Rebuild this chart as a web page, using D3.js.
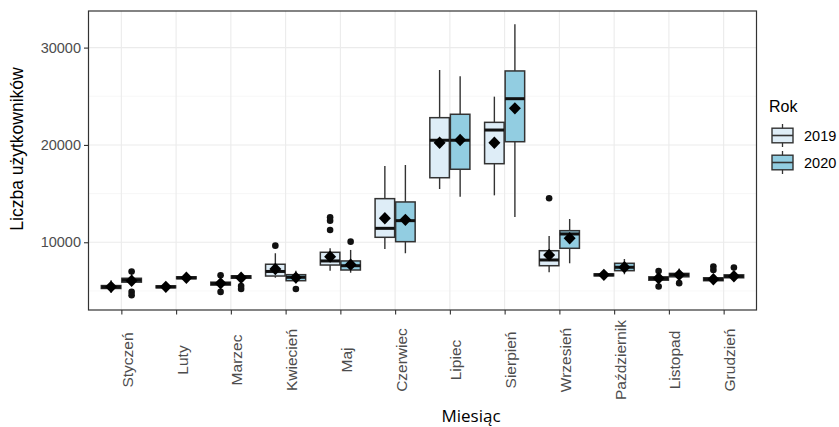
<!DOCTYPE html>
<html><head><meta charset="utf-8">
<script src="https://cdn.jsdelivr.net/npm/d3@7"></script>
<style>body{margin:0;background:#fff}svg{display:block}</style>
</head><body>
<svg id="c" width="839" height="427"></svg>
<script>
const months = ["Styczeń","Luty","Marzec","Kwiecień","Maj","Czerwiec","Lipiec","Sierpień","Wrzesień","Październik","Listopad","Grudzień"];
const years = ["2019","2020"];
const yTicks = [10000, 20000, 30000];
const yMinor = [5000, 15000, 25000];

// 2019 box statistics per month
const low2019    = [4800, 5150, 5250, 6360, 7080,  9310, 15470, 14820,  6910, 6350, 5700, 5700];
const q1_2019    = [5250, 5320, 5600, 6530, 7660, 10510, 16630, 18070,  7590, 6550, 6100, 6050];
const med2019    = [5400, 5420, 5750, 7000, 8080, 11430, 20480, 21530,  8180, 6650, 6280, 6200];
const q3_2019    = [5550, 5520, 5900, 7740, 8970, 14480, 22800, 22320,  9130, 6750, 6450, 6350];
const high2019   = [6100, 5700, 6200, 8870, 9380, 17840, 27700, 24960, 10640, 6950, 6800, 6700];
const mean2019   = [5420, 5420, 5780, 7250, 8520, 12460, 20230, 20230,  8690, 6650, 6300, 6200];
const out2019    = [[], [], [6600, 4900], [9650], [12560, 12220, 11260], [], [], [], [14520], [], [7050, 5450], [7500, 7150]];

// 2020 box statistics per month
const low2020    = [5500, 6050, 5900, 5780, 6870,  8870, 14680, 12600,  7840, 6710, 6150, 6200];
const q1_2020    = [5900, 6250, 6300, 6050, 7150, 10060, 17500, 20330,  9380, 7080, 6450, 6350];
const med2020    = [6100, 6350, 6450, 6400, 7590, 12220, 20480, 24750, 10850, 7430, 6650, 6500];
const q3_2020    = [6300, 6450, 6550, 6670, 8080, 14140, 23150, 27600, 11190, 7840, 6800, 6650];
const high2020   = [6800, 6700, 6700, 7080, 9210, 17940, 27050, 32390, 12390, 8280, 7300, 6900];
const mean2020   = [6050, 6350, 6350, 6370, 7700, 12300, 20500, 23760, 10410, 7430, 6650, 6500];
const out2020    = [[7000, 4900, 4550], [], [5500, 5200], [5200], [10060], [], [], [], [], [], [5800], [7400]];

const fills = {"2019": "#deedf7", "2020": "#92cde1"};

const stats = {
  "2019": months.map((m,i)=>({m, lo:low2019[i], q1:q1_2019[i], med:med2019[i], q3:q3_2019[i], hi:high2019[i], mean:mean2019[i], out:out2019[i]})),
  "2020": months.map((m,i)=>({m, lo:low2020[i], q1:q1_2020[i], med:med2020[i], q3:q3_2020[i], hi:high2020[i], mean:mean2020[i], out:out2020[i]}))
};

const P = {l:88.5, r:756.5, t:11, b:310};
const svg = d3.select("#c");
const x = d3.scalePoint().domain(months).range([P.l, P.r]).padding(0.6);
const step = x.step();
const dodge = d3.scaleBand().domain(years).range([-0.375*step, 0.375*step]);
const y = d3.scaleLinear().domain([3040, 33760]).range([P.b, P.t]);

// grid
const g = svg.append("g");
g.selectAll(".mn").data(yMinor).join("line")
  .attr("x1",P.l).attr("x2",P.r).attr("y1",d=>y(d)).attr("y2",d=>y(d))
  .attr("stroke","#f2f2f2").attr("stroke-width",0.6);
g.selectAll(".mj").data(yTicks).join("line")
  .attr("x1",P.l).attr("x2",P.r).attr("y1",d=>y(d)).attr("y2",d=>y(d))
  .attr("stroke","#ebebeb").attr("stroke-width",1.1);
g.selectAll(".vx").data(months).join("line")
  .attr("x1",d=>x(d)).attr("x2",d=>x(d)).attr("y1",P.t).attr("y2",P.b)
  .attr("stroke","#ebebeb").attr("stroke-width",1.1);

// boxes
const bw = dodge.bandwidth();
years.forEach(yr=>{
  const grp = svg.append("g");
  const item = grp.selectAll("g").data(stats[yr]).join("g")
    .attr("transform", d=>`translate(${x(d.m)+dodge(yr)+bw/2},0)`);
  item.append("line").attr("x1",0).attr("x2",0).attr("y1",d=>y(d.hi)).attr("y2",d=>y(d.q3))
    .attr("stroke","#333").attr("stroke-width",1.4);
  item.append("line").attr("x1",0).attr("x2",0).attr("y1",d=>y(d.q1)).attr("y2",d=>y(d.lo))
    .attr("stroke","#333").attr("stroke-width",1.4);
  item.append("rect").attr("x",-bw/2+0.5).attr("width",bw-1)
    .attr("y",d=>y(d.q3)).attr("height",d=>Math.max(0.5,y(d.q1)-y(d.q3)))
    .attr("fill",fills[yr]).attr("stroke","#333").attr("stroke-width",1.5);
  item.append("line").attr("x1",-bw/2+0.5).attr("x2",bw/2-0.5).attr("y1",d=>y(d.med)).attr("y2",d=>y(d.med))
    .attr("stroke","#111").attr("stroke-width",3);
  item.selectAll("circle").data(d=>d.out).join("circle")
    .attr("cx",0).attr("cy",d=>y(d)).attr("r",3.3).attr("fill","#111");
  item.append("path").attr("d",d=>{const c=y(d.mean);return `M0,${c-6.2}L6,${c}L0,${c+6.2}L-6,${c}Z`;})
    .attr("fill","#000");
});

// panel border
svg.append("rect").attr("x",P.l).attr("y",P.t).attr("width",P.r-P.l).attr("height",P.b-P.t)
  .attr("fill","none").attr("stroke","#333").attr("stroke-width",1.2);

// axes
const ya = svg.append("g").attr("transform",`translate(${P.l},0)`)
  .call(d3.axisLeft(y).tickValues(yTicks).tickSize(4.5).tickPadding(3).tickFormat(d3.format("d")));
ya.select(".domain").remove();
ya.selectAll("line").attr("stroke","#333").attr("stroke-width",1.1);
ya.selectAll("text").attr("fill","#4d4d4d").style("font-family","'Liberation Sans',Arial,sans-serif").style("font-size","14.5px");

const xa = svg.append("g").attr("transform",`translate(0,${P.b})`)
  .call(d3.axisBottom(x).tickSize(4.5).tickPadding(0));
xa.select(".domain").remove();
xa.selectAll("line").attr("stroke","#333").attr("stroke-width",1.1);
xa.selectAll("text")
  .attr("fill","#4d4d4d").style("font-family","'Liberation Sans',Arial,sans-serif").style("font-size","15.5px")
  .attr("text-anchor","middle").attr("dy",null)
  .attr("transform","translate(11,50) rotate(-90)").attr("y",0).attr("x",0);

// titles
svg.append("text").attr("transform","translate(23,149) rotate(-90)").attr("text-anchor","middle")
  .style("font-family","'Liberation Sans',Arial,sans-serif").style("font-size","17.5px").attr("fill","#000")
  .text("Liczba użytkowników");
svg.append("text").attr("x",471).attr("y",422).attr("text-anchor","middle")
  .style("font-family","'Open Sans',sans-serif").style("font-size","17px").attr("fill","#000")
  .text("Miesiąc");

// legend
const lg = svg.append("g");
lg.append("text").attr("x",769).attr("y",112).text("Rok")
  .style("font-family","'Liberation Sans',Arial,sans-serif").style("font-size","16px").attr("fill","#000");
years.forEach((yr,i)=>{
  const cy = 135.5 + i*27;
  const k = lg.append("g").attr("transform",`translate(782.5,${cy})`);
  k.append("line").attr("y1",-11.5).attr("y2",11.5).attr("stroke","#333").attr("stroke-width",1.3);
  k.append("rect").attr("x",-10.5).attr("y",-7.3).attr("width",21).attr("height",14.6)
    .attr("fill",fills[yr]).attr("stroke","#333").attr("stroke-width",1.4);
  k.append("line").attr("x1",-10.5).attr("x2",10.5).attr("stroke","#333").attr("stroke-width",1.6);
  lg.append("text").attr("x",804).attr("y",cy+5).text(yr)
    .style("font-family","'Liberation Sans',Arial,sans-serif").style("font-size","14.5px").attr("fill","#000");
});
</script>
</body></html>
